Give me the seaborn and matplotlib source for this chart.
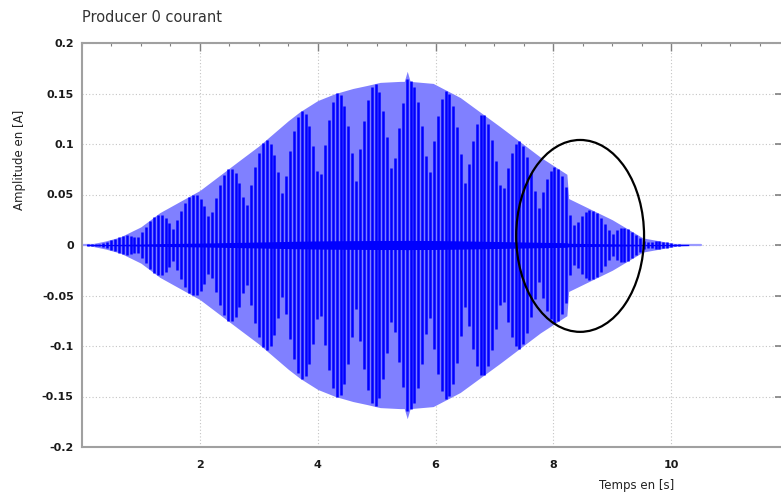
import numpy as np
import pandas as pd
import matplotlib
matplotlib.use("Agg")
import matplotlib.pyplot as plt
import seaborn as sns
from matplotlib.patches import Ellipse
from matplotlib.ticker import FixedLocator, MultipleLocator

# Envelope of the producer current: time (s) and peak amplitude (A)
env_t = [0.0, 0.15, 0.4, 0.65, 1.0, 1.32, 2.0, 2.68, 3.0, 3.2, 3.5, 3.7, 4.0,
         4.3, 4.6, 4.84, 5.06, 5.4, 5.47, 5.52, 5.57, 5.96, 6.42, 7.1, 7.78,
         8.23, 8.26, 9.0, 9.52, 10.1, 10.5]
env_a = [0.0, 0.001, 0.004, 0.008, 0.018, 0.032, 0.054, 0.084, 0.098, 0.108,
         0.123, 0.132, 0.143, 0.150, 0.155, 0.158, 0.161, 0.162, 0.162, 0.172,
         0.162, 0.160, 0.146, 0.117, 0.087, 0.070, 0.046, 0.025, 0.007, 0.001,
         0.0]

# Ticks
x_ticks = [2, 4, 6, 8, 10]
x_tick_labels = ["2", "4", "6", "8", "10"]
y_ticks = [-0.2, -0.15, -0.1, -0.05, 0.0, 0.05, 0.1, 0.15, 0.2]
y_tick_labels = ["-0.2", "-0.15", "-0.1", "-0.05", "0", "0.05", "0.1", "0.15", "0.2"]

# Sampling of the oscillation strokes and their beat pattern
stroke_step = 0.066
beat_period = 0.62
t_end = 10.5

sns.set_theme(style="white")
plt.rcParams["font.family"] = ["DejaVu Sans"]

fig = plt.figure(figsize=(7.81, 4.96), dpi=100)
ax = fig.add_axes([82 / 781, 49 / 496, 707 / 781, 404 / 496])

# light envelope of the signal
tf = np.linspace(0, t_end, 6000)
af = np.interp(tf, env_t, env_a)
ax.fill_between(tf, -af, af, color="#8080ff", lw=0, zorder=2)
sns.lineplot(x=[0, t_end], y=[0, 0], color="#9a9aff", lw=1.6, ax=ax, zorder=2)

# dark oscillation strokes
ts = np.arange(stroke_step / 2, t_end, stroke_step)
a_s = np.interp(ts, env_t, env_a)
beat = 0.4 + 0.6 * np.abs(np.cos(np.pi * ts / beat_period))
strokes = pd.DataFrame({"t": ts, "lo": -a_s * beat, "hi": a_s * beat})
ax.vlines(strokes["t"], strokes["lo"], strokes["hi"], color="#0000ff",
          lw=1.8, zorder=3)

# dense crossings around zero
ax.fill_between(tf, -(0.024 * af + 0.0006), 0.024 * af + 0.0006,
                where=af > 0.0005, color="#0000ff", lw=0, zorder=3)

# highlighted region
ax.add_patch(Ellipse((8.455, 0.009), 2.17, 0.19, fill=False, ec="black",
                     lw=1.6, zorder=5))

ax.set_xlim(0, 12)
ax.set_ylim(-0.2, 0.2)
ax.xaxis.set_major_locator(FixedLocator(x_ticks))
ax.set_xticklabels(x_tick_labels)
ax.xaxis.set_minor_locator(MultipleLocator(0.5))
ax.yaxis.set_major_locator(FixedLocator(y_ticks))
ax.set_yticklabels(y_tick_labels)
ax.yaxis.set_minor_locator(MultipleLocator(0.01))

ax.grid(True, which="major", linestyle=(0, (1, 2)), color="#c4c4c4", lw=0.8)
ax.set_axisbelow(True)

for s in ax.spines.values():
    s.set_color("#a0a0a0")
    s.set_linewidth(1.5)
    s.set_zorder(6)

ax.tick_params(axis="both", which="both", direction="in", color="#808080",
               top=True, right=True, labelcolor="#1a1a1a")
ax.tick_params(axis="y", which="major", length=10, width=1.2, pad=6,
               labelsize=8)
ax.tick_params(axis="y", which="minor", length=3, width=0.8)
ax.tick_params(axis="x", which="major", length=5.5, width=1.0, pad=9,
               labelsize=8)
ax.tick_params(axis="x", which="minor", length=2, width=0.8)
for lab in ax.get_xticklabels() + ax.get_yticklabels():
    lab.set_fontweight("bold")

ax.set_xlabel("")
ax.set_ylabel("")
fig.text(82 / 781, 1 - 18 / 496, "Producer 0 courant", fontsize=10.5,
         color="#333333", ha="left", va="center")
fig.text(20 / 781, 1 - 160 / 496, "Amplitude en [A]", fontsize=8.5,
         color="#222222", rotation=90, ha="center", va="center")
fig.text(637 / 781, 1 - 485 / 496, "Temps en [s]", fontsize=8.5,
         color="#222222", ha="center", va="center")

fig.savefig("out.png", dpi=100)
